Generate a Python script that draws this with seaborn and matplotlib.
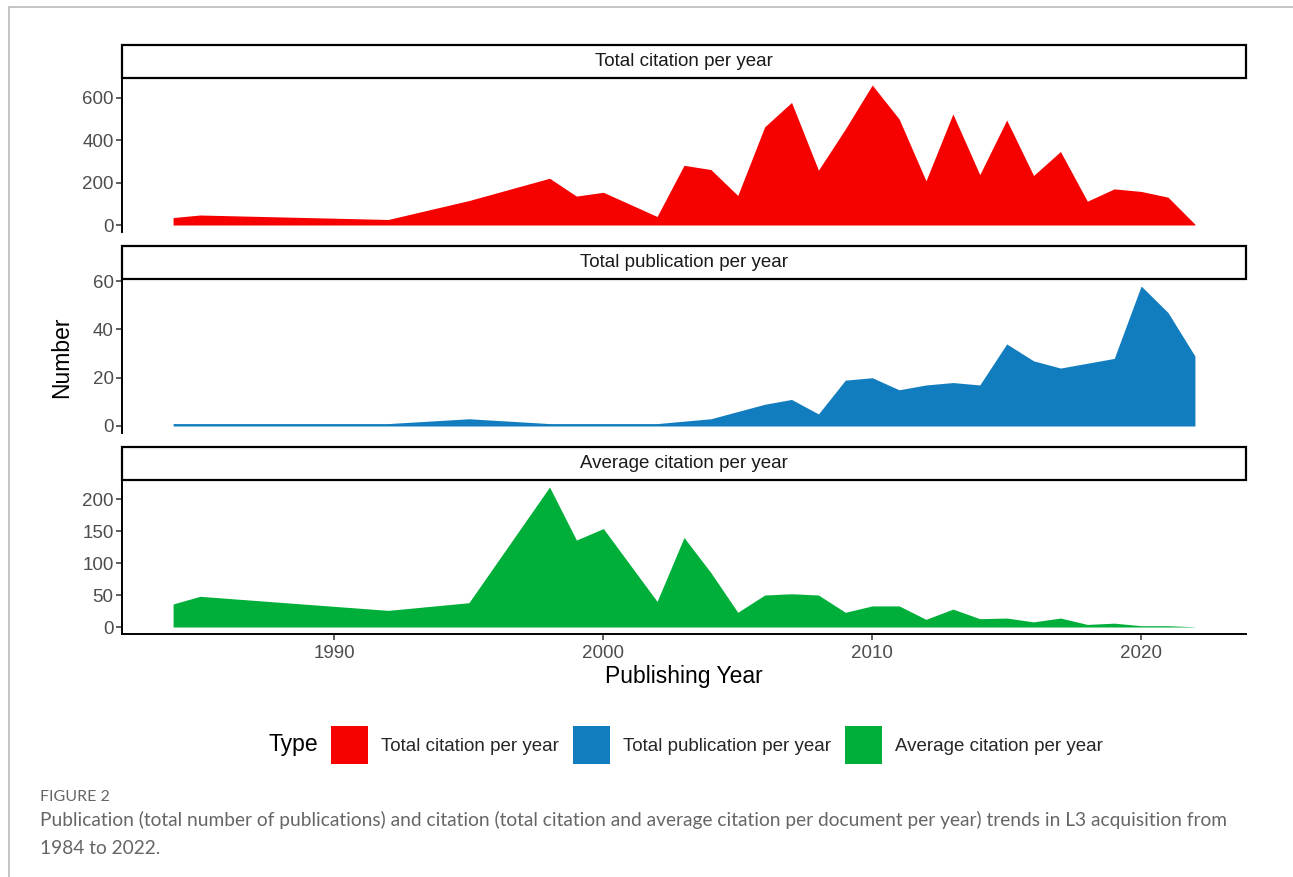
import matplotlib
matplotlib.use("Agg")
import matplotlib.pyplot as plt
import seaborn as sns
import pandas as pd
from matplotlib.patches import Rectangle, Patch
from matplotlib.lines import Line2D
from matplotlib.ticker import MultipleLocator

# ---- data -------------------------------------------------------------
years = [1984, 1985, 1992, 1995, 1998, 1999, 2000, 2002, 2003, 2004,
         2005, 2006, 2007, 2008, 2009, 2010, 2011, 2012, 2013, 2014,
         2015, 2016, 2017, 2018, 2019, 2020, 2021, 2022]

total_citation = [35, 47, 26, 115, 220, 136, 154, 40, 281, 261,
                  139, 462, 577, 258, 452, 659, 499, 208, 523, 237,
                  494, 233, 346, 112, 170, 158, 131, 4]

total_publication = [1, 1, 1, 3, 1, 1, 1, 1, 2, 3,
                     6, 9, 11, 5, 19, 20, 15, 17, 18, 17,
                     34, 27, 24, 26, 28, 58, 47, 29]

average_citation = [36, 48, 26, 38, 219, 136, 154, 40, 140, 85,
                    23, 50, 52, 50, 23, 33, 33, 12, 28, 13,
                    14, 8, 14, 4, 6, 2, 2, 0.3]

types = ["Total citation per year", "Total publication per year",
         "Average citation per year"]
colors = ["#F60000", "#127DBE", "#00AF39"]
y_steps = [200, 20, 50]

df = pd.concat([
    pd.DataFrame({"Year": years, "Value": vals, "Type": t})
    for t, vals in zip(types, [total_citation, total_publication, average_citation])
], ignore_index=True)

# ---- style ------------------------------------------------------------
sns.set_theme(style="ticks")
plt.rcParams["font.family"] = ["Liberation Sans", "DejaVu Sans"]

W, H = 1293, 877
FS = 13.5
g = sns.FacetGrid(df, row="Type", row_order=types, hue="Type",
                  hue_order=types, palette=colors, sharey=False,
                  sharex=True, height=2.5, aspect=4)


def area(x, y, color=None, label=None, **kw):
    plt.fill_between(x, 0, y, color=color, linewidth=0)


g.map(area, "Year", "Value")
g.set_titles("")
g.set_axis_labels("", "")

fig = g.figure
fig.set_size_inches(W / 100, H / 100)

left_px, right_px = 122, 1246
panels_px = [(78, 232), (279, 433), (480, 634)]
strip_px = 33

x_min, x_max = min(years), max(years)
x_pad = 0.05 * (x_max - x_min)

for i, (ax, t) in enumerate(zip(g.axes.flat, types)):
    top, bottom = panels_px[i]
    ax.set_position([left_px / W, 1 - bottom / H,
                     (right_px - left_px) / W, (bottom - top) / H])
    vals = df.loc[df["Type"] == t, "Value"]
    vmax = vals.max()
    ax.set_ylim(-0.05 * vmax, 1.05 * vmax)
    ax.set_xlim(x_min - x_pad, x_max + x_pad)
    ax.yaxis.set_major_locator(MultipleLocator(y_steps[i]))
    ax.xaxis.set_major_locator(MultipleLocator(10))
    ax.tick_params(axis="both", labelsize=FS, labelcolor="#4D4D4D",
                   color="#333333", length=4, width=1.1, pad=2)
    ax.tick_params(axis="x", pad=4)
    ax.spines["left"].set_linewidth(1.4)
    ax.spines["left"].set_color("black")
    ax.spines["bottom"].set_linewidth(1.4)
    ax.spines["bottom"].set_color("black")
    ax.set_facecolor("white")
    ax.grid(False)
    if i < 2:
        ax.spines["bottom"].set_visible(False)
        ax.tick_params(axis="x", bottom=False, labelbottom=False)
    else:
        ax.tick_params(axis="x", labelbottom=True)

    # facet strip
    h = strip_px / (bottom - top)
    ax.add_patch(Rectangle((0, 1), 1, h, transform=ax.transAxes,
                           facecolor="white", edgecolor="black",
                           linewidth=1.6, clip_on=False, zorder=5))
    ax.text(0.5, 1 + h / 2, t, transform=ax.transAxes, ha="center",
            va="center", fontsize=FS, color="#1A1A1A", zorder=6)

# axis titles
fig.text(62 / W, 1 - 357 / H, "Number", rotation=90, ha="center",
         va="center", fontsize=16.5, color="black")
fig.text((left_px + right_px) / 2 / W, 1 - 677 / H, "Publishing Year",
         ha="center", va="center", fontsize=16.5, color="black")

# legend
handles = [Patch(facecolor=c, edgecolor="none", label=t)
           for c, t in zip(colors, types)]
fig.legend(handles=handles, loc="center", bbox_to_anchor=(717 / W, 1 - 745 / H),
           ncol=3, frameon=False, fontsize=FS, handlelength=1.97,
           handleheight=2.66, handletextpad=0.7, columnspacing=0.75,
           borderaxespad=0)
fig.text(293 / W, 1 - 745 / H, "Type", ha="center", va="center",
         fontsize=16.5, color="black")

# caption
cap_font = ["Lato", "DejaVu Sans"]
fig.text(40 / W, 1 - 797 / H, "FIGURE 2", ha="left", va="center",
         fontsize=11.5, color="#666666", family=cap_font)
fig.text(40 / W, 1 - 820 / H,
         "Publication (total number of publications) and citation (total citation and "
         "average citation per document per year) trends in L3 acquisition from",
         ha="left", va="center", fontsize=13.75, color="#666666", family=cap_font)
fig.text(40 / W, 1 - 849 / H, "1984 to 2022.", ha="left", va="center",
         fontsize=13.75, color="#666666", family=cap_font)

# page frame
fig.add_artist(Line2D([9 / W, 1], [1 - 7 / H, 1 - 7 / H], transform=fig.transFigure,
                      color="#BBBBBB", linewidth=1.2))
fig.add_artist(Line2D([9 / W, 9 / W], [0, 1 - 7 / H], transform=fig.transFigure,
                      color="#BBBBBB", linewidth=1.2))

fig.savefig("out.png", dpi=100, facecolor="white")
